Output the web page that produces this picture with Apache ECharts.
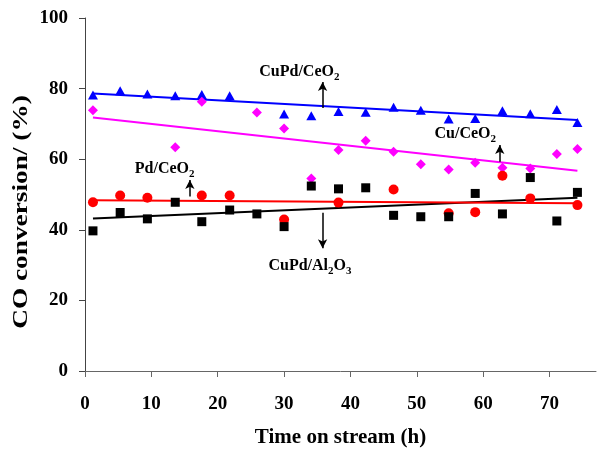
<!DOCTYPE html>
<html>
<head>
<meta charset="utf-8">
<script src="https://cdn.jsdelivr.net/npm/echarts@6/dist/echarts.min.js"></script>
<style>html,body{margin:0;padding:0;background:#fff}#c{width:598px;height:455px}</style>
</head>
<body>
<div id="c"></div>
<script>
// ---- data ----
var times = [1.2, 5.3, 9.4, 13.6, 17.6, 21.8, 25.9, 30.0, 34.1, 38.2, 42.3, 46.5, 50.6, 54.8, 58.8, 62.9, 67.1, 71.1, 74.2];
var cuPdCeO2 = [78.2, 79.4, 78.5, 78.0, 78.3, 78.0, null, 72.8, 72.3, 73.5, 73.3, 74.7, 73.9, 71.4, 71.5, 73.7, 72.9, 74.1, 70.4];
var cuCeO2   = [73.9, null, null, 63.4, 76.3, null, 73.2, 68.7, 54.5, 62.6, 65.2, 62.1, 58.6, 57.1, 59.0, 57.6, 57.4, 61.5, 62.9];
var pdCeO2   = [47.8, 49.7, 49.1, null, 49.7, 49.7, null, 42.9, null, 47.7, null, 51.4, null, 44.7, 45.0, 55.3, 48.9, null, 47.0];
var cuPdAl2O3= [39.7, 44.9, 43.1, 47.8, 42.3, 45.6, 44.5, 40.9, 52.4, 51.6, 51.9, 44.1, 43.7, 43.7, 50.3, 44.5, 54.8, 42.5, 50.6];
var trendX = [1.2, 74.2];
var trendCuPdCeO2 = [78.6, 71.1];
var trendCuCeO2 = [71.8, 56.7];
var trendPdCeO2 = [48.4, 47.5];
var trendCuPdAl2O3 = [43.2, 49.1];
var xTicks = [0, 10, 20, 30, 40, 50, 60, 70];
var yTicks = [0, 20, 40, 60, 80, 100];

function pts(vals) {
  var out = [];
  for (var i = 0; i < times.length; i++) if (vals[i] != null) out.push([times[i], vals[i]]);
  return out;
}
function trend(vals) { return [[trendX[0], vals[0]], [trendX[1], vals[1]]]; }

var FONT = '"Liberation Serif", "Times New Roman", serif';
var rich = {
  a: {fontFamily: FONT, fontWeight: 'bold', fontSize: 16, color: '#000', lineHeight: 22},
  s: {fontFamily: FONT, fontWeight: 'bold', fontSize: 11, color: '#000', lineHeight: 11, verticalAlign: 'bottom'}
};
function label(coord, fmt) {
  return {coord: coord, symbolSize: 0, label: {show: true, position: 'inside', formatter: fmt, rich: rich}};
}
function arrow(x, y0, y1) {
  return [{coord: [x, y0]}, {coord: [x, y1]}];
}

var chart = echarts.init(document.getElementById('c'), null, {renderer: 'canvas'});
chart.setOption({
  animation: false,
  backgroundColor: '#fff',
  grid: {left: 85, right: 2, top: 18, bottom: 84},
  xAxis: {
    type: 'value', min: 0, max: 77, interval: 10,
    name: 'Time on stream (h)', nameLocation: 'middle', nameGap: 56,
    nameTextStyle: {fontFamily: FONT, fontWeight: 'bold', fontSize: 21, color: '#000'},
    axisLine: {lineStyle: {color: '#666', width: 1}},
    axisTick: {show: true, inside: false, length: 6, customValues: xTicks, lineStyle: {color: '#666'}},
    axisLabel: {customValues: xTicks, margin: 24, fontFamily: FONT, fontWeight: 'bold', fontSize: 19, color: '#000'},
    splitLine: {show: false}
  },
  yAxis: {
    type: 'value', min: 0, max: 100, interval: 20,
    axisLine: {show: true, lineStyle: {color: '#444', width: 1}},
    axisTick: {show: true, length: 6, customValues: yTicks, lineStyle: {color: '#444'}},
    axisLabel: {customValues: yTicks, margin: 17, fontFamily: FONT, fontWeight: 'bold', fontSize: 19, color: '#000'},
    splitLine: {show: false}
  },
  graphic: [{
    type: 'text', x: 22, y: 212, rotation: Math.PI / 2, scaleX: 1.3,
    style: {text: 'CO conversion/ (%)', font: 'bold 21px ' + FONT, fill: '#000', align: 'center', verticalAlign: 'middle'}
  }],
  series: [
    {type: 'line', data: trend(trendCuPdCeO2), symbol: 'none', lineStyle: {color: '#0000ff', width: 2}, z: 2},
    {type: 'line', data: trend(trendCuCeO2), symbol: 'none', lineStyle: {color: '#ff00ff', width: 2}, z: 2},
    {type: 'line', data: trend(trendCuPdAl2O3), symbol: 'none', lineStyle: {color: '#000000', width: 2}, z: 2},
    {type: 'line', data: trend(trendPdCeO2), symbol: 'none', lineStyle: {color: '#ff0000', width: 2}, z: 2},
    {type: 'scatter', name: 'CuPd/CeO2', data: pts(cuPdCeO2), symbol: 'triangle', symbolSize: [10, 9], itemStyle: {color: '#0000ff', opacity: 1}, z: 3},
    {type: 'scatter', name: 'Cu/CeO2', data: pts(cuCeO2), symbol: 'diamond', symbolSize: [10, 10], itemStyle: {color: '#ff00ff', opacity: 1}, z: 3},
    {type: 'scatter', name: 'Pd/CeO2', data: pts(pdCeO2), symbol: 'circle', symbolSize: 10, itemStyle: {color: '#ff0000', opacity: 1}, z: 3},
    {type: 'scatter', name: 'CuPd/Al2O3', data: pts(cuPdAl2O3), symbol: 'rect', symbolSize: 9, itemStyle: {color: '#000000', opacity: 1}, z: 3,
      markLine: {
        silent: true, animation: false, symbol: ['none', 'arrow'], symbolSize: [7, 9],
        label: {show: false},
        lineStyle: {color: '#000', width: 1.5, type: 'solid'},
        data: [arrow(35.8, 74.5, 81.9), arrow(62.5, 59.3, 64.0), arrow(15.8, 49.4, 54.1), arrow(35.8, 44.8, 34.8)]
      },
      markPoint: {
        silent: true, animation: false, symbol: 'circle', symbolSize: 0,
        data: [
          label([32.3, 84.8], '{a|CuPd/CeO}{s|2}'),
          label([57.3, 67.2], '{a|Cu/CeO}{s|2}'),
          label([12.0, 57.2], '{a|Pd/CeO}{s|2}'),
          label([33.9, 29.8], '{a|CuPd/Al}{s|2}{a|O}{s|3}')
        ]
      }
    }
  ]
});
</script>
</body>
</html>
